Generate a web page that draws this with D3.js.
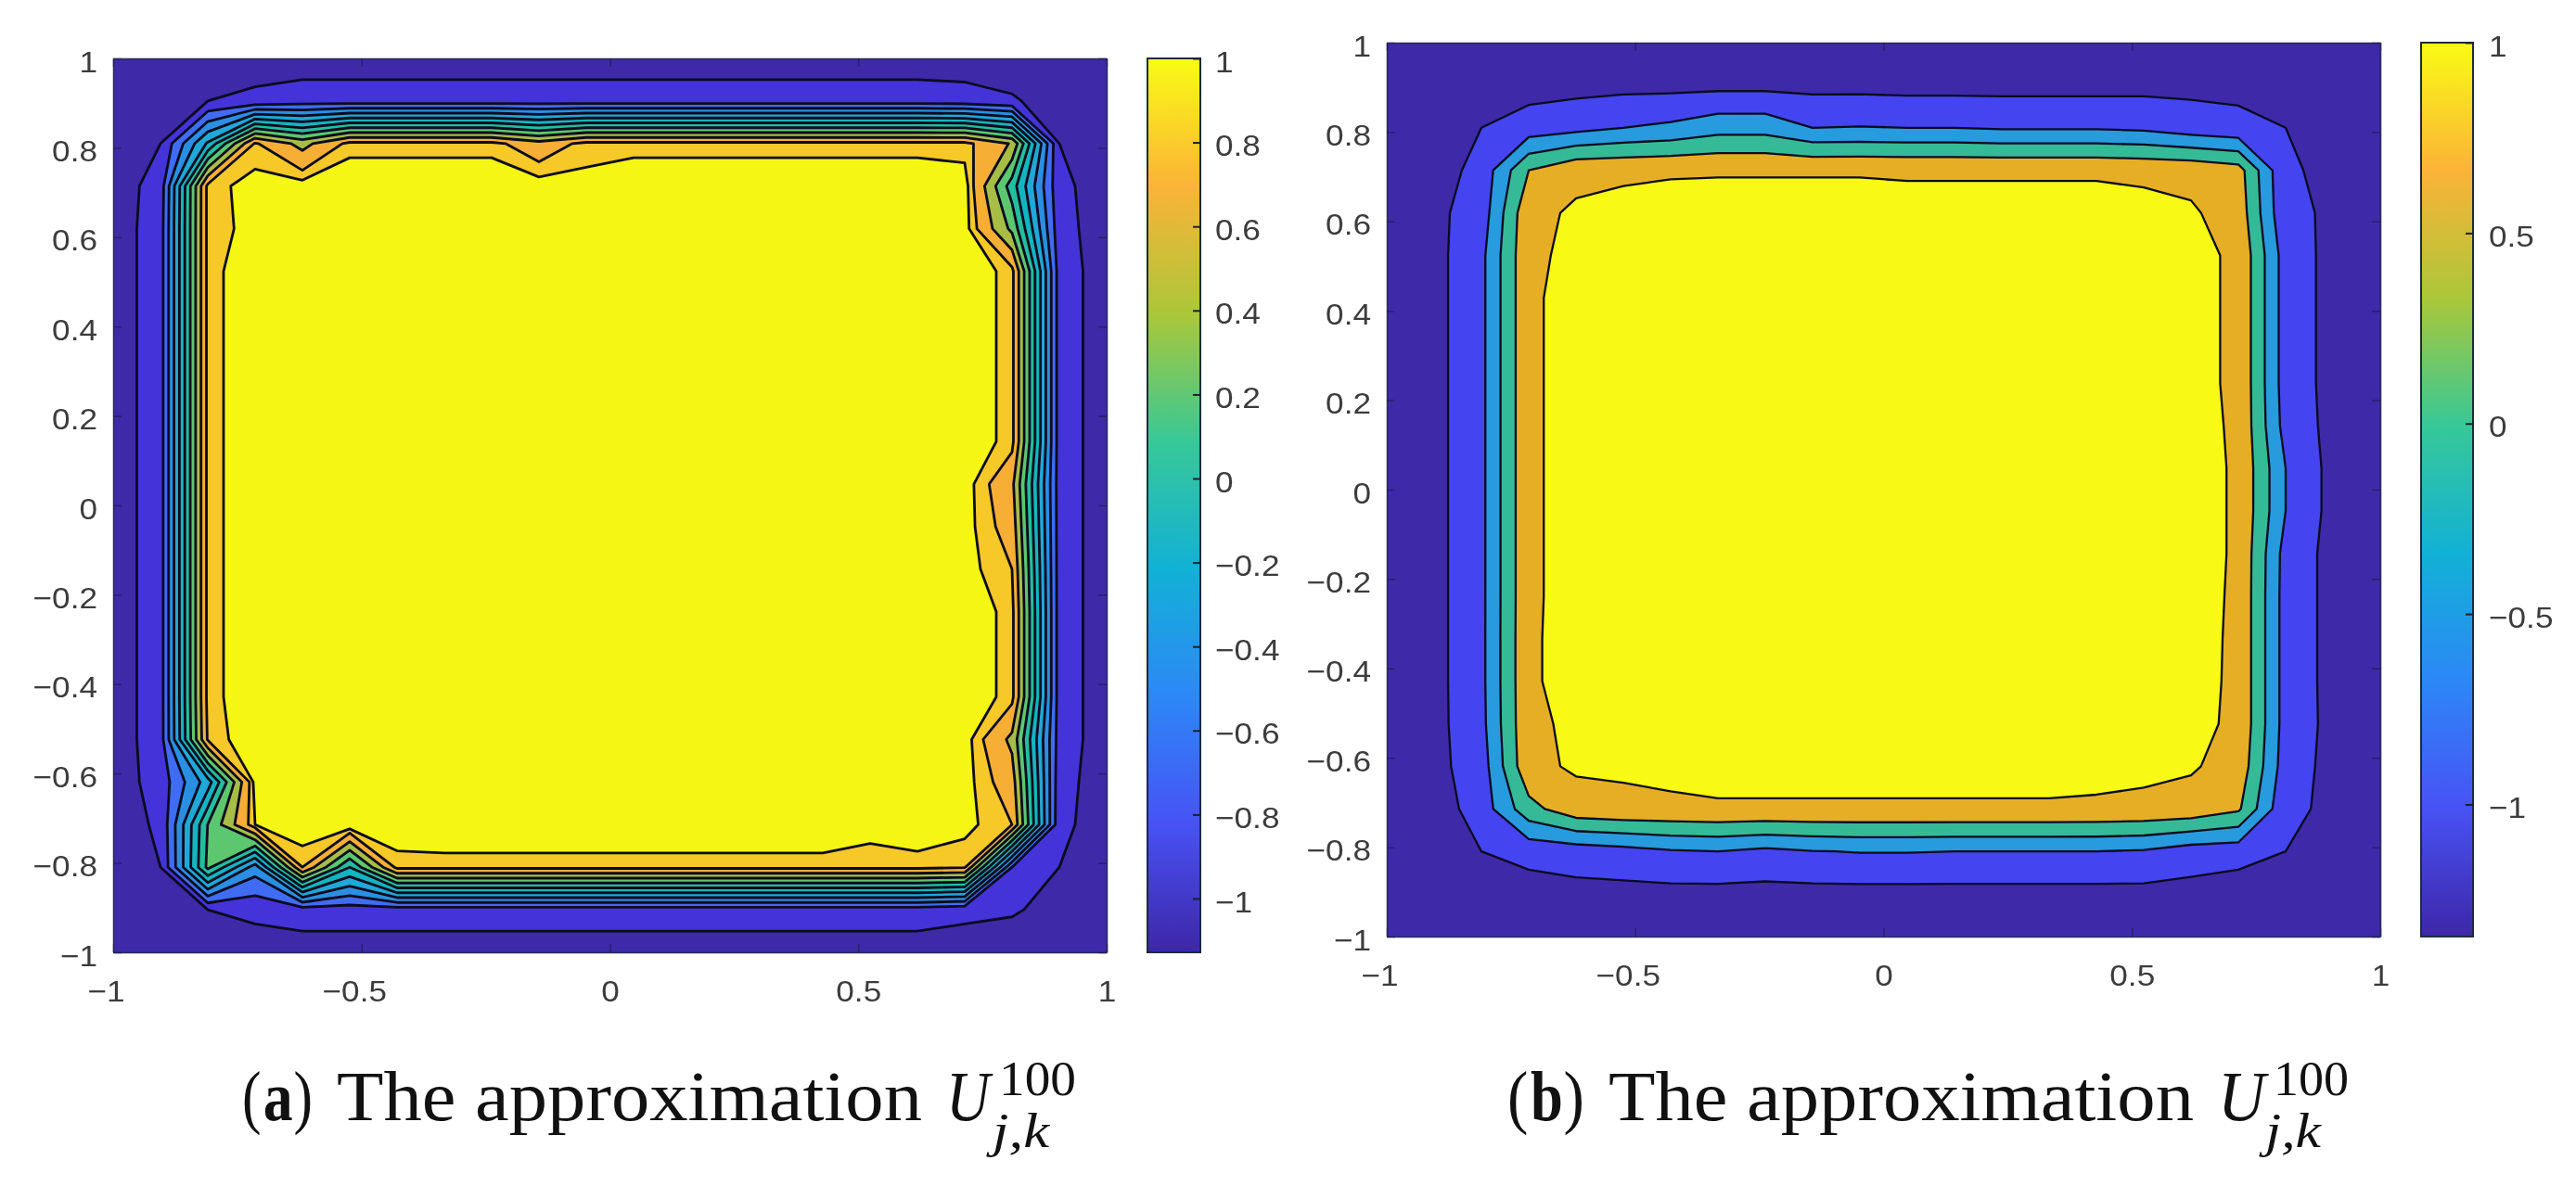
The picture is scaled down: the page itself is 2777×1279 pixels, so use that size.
<!DOCTYPE html>
<html><head><meta charset="utf-8">
<style>html,body{margin:0;padding:0;background:#fff}svg{display:block;filter:blur(0.6px)}</style>
<script src="https://cdn.jsdelivr.net/npm/d3@7"></script></head><body>
<svg id="c" width="2777" height="1279"></svg>
<script>
// 22x22 solution grids (rows top to bottom, y=1..-1; columns x=-1..1)
const gridA = [
[-1.1,-1.1,-1.1,-1.1,-1.1,-1.1,-1.1,-1.1,-1.1,-1.1,-1.1,-1.1,-1.1,-1.1,-1.1,-1.1,-1.1,-1.1,-1.1,-1.1,-1.1,-1.1],
[-1.1,-1.05,-1,-.95,-.9,-.9,-.9,-.9,-.9,-.9,-.9,-.9,-.9,-.9,-.9,-.9,-.9,-.9,-.92,-.98,-1.08,-1.1],
[-1.1,-1,-.17,.82,.53,.85,.85,.85,.85,.68,.85,.85,.85,.85,.85,.85,.85,.85,.85,.58,-1,-1.1],
[-1.1,-.92,.85,.953,.96,1,1,1,1,.96,.94,1,1,1,1,1,1,1,.96,.1,-.95,-1.1],
[-1.1,-.9,.85,.94,1,1,1,1,1,1,1,1,1,1,1,1,1,1,.956,.35,-.93,-1.1],
[-1.1,-.9,.85,1,1,1,1,1,1,1,1,1,1,1,1,1,1,1,1,.85,-.9,-1.1],
[-1.1,-.9,.85,1,1,1,1,1,1,1,1,1,1,1,1,1,1,1,1,.85,-.9,-1.1],
[-1.1,-.9,.85,1,1,1,1,1,1,1,1,1,1,1,1,1,1,1,1,.85,-.9,-1.1],
[-1.1,-.9,.85,1,1,1,1,1,1,1,1,1,1,1,1,1,1,1,1,.85,-.9,-1.1],
[-1.1,-.9,.85,1,1,1,1,1,1,1,1,1,1,1,1,1,1,1,1,.85,-.9,-1.1],
[-1.1,-.9,.85,1,1,1,1,1,1,1,1,1,1,1,1,1,1,1,.96,.65,-.9,-1.1],
[-1.1,-.9,.85,1,1,1,1,1,1,1,1,1,1,1,1,1,1,1,.95,.72,-.9,-1.1],
[-1.1,-.9,.85,1,1,1,1,1,1,1,1,1,1,1,1,1,1,1,.95,.8,-.9,-1.1],
[-1.1,-.9,.85,1,1,1,1,1,1,1,1,1,1,1,1,1,1,1,1,.85,-.9,-1.1],
[-1.1,-.9,.85,1,1,1,1,1,1,1,1,1,1,1,1,1,1,1,1,.85,-.9,-1.1],
[-1.1,-.9,.85,1,1,1,1,1,1,1,1,1,1,1,1,1,1,1,1,.85,-.9,-1.1],
[-1.1,-.9,.82,1,1,1,1,1,1,1,1,1,1,1,1,1,1,1,.96,.55,-.9,-1.1],
[-1.1,-.92,-.3,.95,1,1,1,1,1,1,1,1,1,1,1,1,1,1,.95,.7,-.93,-1.1],
[-1.1,-.967,.205,.9,1,1,.98,1,1,1,1,1,1,1,1,1,.94,.985,.94,.8,-.95,-1.1],
[-1.1,-1,.25,-.5,.8,0,.85,.85,.85,.85,.85,.85,.85,.85,.85,.85,.85,.85,.82,-.8,-1,-1.1],
[-1.1,-1.05,-1,-.95,-.9,-.9,-.9,-.9,-.9,-.9,-.9,-.9,-.9,-.9,-.9,-.9,-.9,-.9,-.95,-.98,-1.06,-1.1],
[-1.1,-1.1,-1.1,-1.1,-1.1,-1.1,-1.1,-1.1,-1.1,-1.1,-1.1,-1.1,-1.1,-1.1,-1.1,-1.1,-1.1,-1.1,-1.1,-1.1,-1.1,-1.1]
];
const gridB = [
[-1.35,-1.35,-1.35,-1.35,-1.35,-1.35,-1.35,-1.35,-1.35,-1.35,-1.35,-1.35,-1.35,-1.35,-1.35,-1.35,-1.35,-1.35,-1.35,-1.35,-1.35,-1.35],
[-1.35,-1.34,-1.3,-1.19,-1.16,-1.14,-1.14,-1.13,-1.13,-1.14,-1.14,-1.16,-1.16,-1.16,-1.16,-1.16,-1.14,-1.12,-1.11,-1.3,-1.33,-1.35],
[-1.35,-1.32,-1,-.78,-.655,-.5,-.4,-.19,-.19,-.5,-.48,-.5,-.5,-.55,-.55,-.55,-.6,-.77,-.88,-1,-1.25,-1.35],
[-1.35,-1.24,-.83,.5,.905,.93,.96,.97,.97,.97,.97,.95,.95,.95,.95,.95,.92,.88,.72,-.97,-1.05,-1.35],
[-1.35,-1.11,-.78,.9,1.05,1.12,1.15,1.15,1.15,1.15,1.15,1.15,1.15,1.15,1.15,1.15,1.12,1.05,.815,-.935,-1.04,-1.35],
[-1.35,-1.155,-.63,.93,1.08,1.15,1.15,1.15,1.15,1.15,1.15,1.15,1.15,1.15,1.15,1.15,1.15,1.08,.95,-.75,-1.14,-1.35],
[-1.35,-1.155,-.63,.93,1.15,1.15,1.15,1.15,1.15,1.15,1.15,1.15,1.15,1.15,1.15,1.15,1.15,1.08,.95,-.75,-1.14,-1.35],
[-1.35,-1.155,-.63,.93,1.15,1.15,1.15,1.15,1.15,1.15,1.15,1.15,1.15,1.15,1.15,1.15,1.15,1.08,.95,-.75,-1.14,-1.35],
[-1.35,-1.155,-.63,.93,1.15,1.15,1.15,1.15,1.15,1.15,1.15,1.15,1.15,1.15,1.15,1.15,1.15,1.08,.95,-.75,-1.14,-1.35],
[-1.35,-1.155,-.63,.93,1.15,1.15,1.15,1.15,1.15,1.15,1.15,1.15,1.15,1.15,1.15,1.15,1.15,1.1,.955,-.7,-1.14,-1.35],
[-1.35,-1.155,-.63,.93,1.15,1.15,1.15,1.15,1.15,1.15,1.15,1.15,1.15,1.15,1.15,1.15,1.15,1.12,.96,-.5,-1.16,-1.35],
[-1.35,-1.155,-.63,.93,1.15,1.15,1.15,1.15,1.15,1.15,1.15,1.15,1.15,1.15,1.15,1.15,1.15,1.12,.96,-.5,-1.16,-1.35],
[-1.35,-1.155,-.63,.93,1.15,1.15,1.15,1.15,1.15,1.15,1.15,1.15,1.15,1.15,1.15,1.15,1.15,1.12,.96,-.7,-1.15,-1.35],
[-1.35,-1.155,-.63,.93,1.15,1.15,1.15,1.15,1.15,1.15,1.15,1.15,1.15,1.15,1.15,1.15,1.15,1.12,.95,-.72,-1.14,-1.35],
[-1.35,-1.155,-.63,.94,1.15,1.15,1.15,1.15,1.15,1.15,1.15,1.15,1.15,1.15,1.15,1.15,1.15,1.1,.95,-.72,-1.14,-1.35],
[-1.35,-1.155,-.63,.94,1.15,1.15,1.15,1.15,1.15,1.15,1.15,1.15,1.15,1.15,1.15,1.15,1.15,1.09,.95,-.72,-1.14,-1.35],
[-1.35,-1.155,-.65,.93,1.065,1.15,1.15,1.15,1.15,1.15,1.15,1.15,1.15,1.15,1.15,1.15,1.15,1.07,.95,-.72,-1.13,-1.35],
[-1.35,-1.14,-.75,.9,1.05,1.05,1.1,1.15,1.15,1.15,1.15,1.15,1.15,1.15,1.15,1.12,1.08,1.04,.85,-.77,-1.14,-1.35],
[-1.35,-1.25,-.775,.325,.84,.92,.93,.95,.95,.95,.95,.95,.95,.95,.95,.94,.92,.85,.58,-.92,-1.07,-1.35],
[-1.35,-1.32,-1,-.835,-.77,-.68,-.55,-.5,-.62,-.52,-.48,-.48,-.5,-.5,-.5,-.5,-.55,-.75,-.79,-1,-1.25,-1.35],
[-1.35,-1.34,-1.3,-1.22,-1.147,-1.15,-1.15,-1.158,-1.16,-1.16,-1.158,-1.158,-1.158,-1.158,-1.158,-1.158,-1.15,-1.17,-1.28,-1.3,-1.33,-1.35],
[-1.35,-1.35,-1.35,-1.35,-1.35,-1.35,-1.35,-1.35,-1.35,-1.35,-1.35,-1.35,-1.35,-1.35,-1.35,-1.35,-1.35,-1.35,-1.35,-1.35,-1.35,-1.35]
];
const levelsA = [-1,-.8,-.6,-.4,-.2,0,.2,.4,.6,.8,.9];
const levelsB = [-1,-.5,0,.5,1];
const bgA = "#3e29a8", bgB = "#3e29a8";
const colorsA = ["#4433d8","#3f6cf2","#2a8fe2","#1fa8d8","#12b6c0","#22bf9e","#5cc76e","#a8bd45","#f6ae35","#f6c828","#f6f614"];
const colorsB = ["#4444f0","#289ade","#35ba98","#e6ae24","#f8f914"];
const axisTicksX = [-1,-.5,0,.5,1];
const axisTicksYA = [-1,-.8,-.6,-.4,-.2,0,.2,.4,.6,.8,1];
const barTicksA = [-1,-.8,-.6,-.4,-.2,0,.2,.4,.6,.8,1];
const barTicksB = [-1,-.5,0,.5,1];
const climA = [-1.128,1], climB = [-1.347,1];
const parulaStops = ["#3e26a8","#4852f4","#2d87f7","#12b1d6","#37c897","#abc739","#fbb338","#f9fb15"];
const captionWords = {main:"The approximation", sup:"100", sub:"j,k", ital:"U"};

const svg = d3.select("#c");
const defs = svg.append("defs");
const TXT = "#3c3c3c", SX = 1.1, FS = 32;
const fmt = v => String(v).replace("-", "\u2212");

function stretch(sel, x, y){ sel.attr("x",0).attr("y",0).attr("dy",null).attr("transform",`translate(${x},${y}) scale(${SX},1)`); }

function panel(o){
  const g = svg.append("g");
  const sx = d3.scaleLinear().domain([-1,1]).range([o.l,o.r]);
  const sy = d3.scaleLinear().domain([-1,1]).range([o.b,o.t]);
  const n = o.grid.length;
  const gx = d3.scaleLinear().domain([.5,n-.5]).range([-1,1]);
  const gy = d3.scaleLinear().domain([.5,n-.5]).range([1,-1]);
  const path = d3.geoPath(d3.geoTransform({point(x,y){ this.stream.point(sx(gx(x)), sy(gy(y))); }}));
  g.append("rect").attr("x",o.l).attr("y",o.t).attr("width",o.r-o.l).attr("height",o.b-o.t).attr("fill",o.bg);
  const conts = d3.contours().size([n,n]).smooth(true).thresholds(o.levels)(o.grid.flat());
  g.selectAll("path.band").data(conts).join("path").attr("class","band")
    .attr("d",path).attr("fill",(d,i)=>o.colors[i]).attr("stroke","#0b0b1e").attr("stroke-width",o.lw).attr("stroke-linejoin","round");

  // axes
  const ax = d3.axisBottom(sx).tickValues(axisTicksX).tickFormat(fmt).tickSizeInner(-9).tickSizeOuter(0);
  const ay = d3.axisLeft(sy).tickValues(o.yticks).tickFormat(fmt).tickSizeInner(-9).tickSizeOuter(0);
  const gax = g.append("g").attr("transform",`translate(0,${o.b})`).call(ax);
  const gay = g.append("g").attr("transform",`translate(${o.l},0)`).call(ay);
  const gtx = g.append("g").attr("transform",`translate(0,${o.t})`).call(d3.axisTop(sx).tickValues(axisTicksX).tickFormat("").tickSizeInner(-9).tickSizeOuter(0));
  const gry = g.append("g").attr("transform",`translate(${o.r},0)`).call(d3.axisRight(sy).tickValues(o.yticks).tickFormat("").tickSizeInner(-9).tickSizeOuter(0));
  [gax,gay,gtx,gry].forEach(a=>{ a.selectAll("line").attr("stroke","#1c1c50").attr("stroke-width",1.4).attr("stroke-opacity",.7);
    a.select(".domain").attr("stroke","#2b2b58").attr("stroke-width",1.5); a.attr("font-family",null).attr("font-size",null); });
  gax.selectAll("text").attr("font-family","Liberation Sans").attr("font-size",FS).attr("fill",TXT).attr("text-anchor","middle")
    .each(function(d){ stretch(d3.select(this), d<0?-8:0, o.xLabelBase-o.b); });
  gay.selectAll("text").attr("font-family","Liberation Sans").attr("font-size",FS).attr("fill",TXT).attr("text-anchor","end")
    .each(function(){ stretch(d3.select(this), o.yLabelX-o.l, 14); });

  // colorbar
  const sc = d3.scaleLinear().domain(o.clim).range([o.b,o.t+0]);
  const gid = "bar"+o.id;
  const lg = defs.append("linearGradient").attr("id",gid).attr("x1",0).attr("x2",0).attr("y1",1).attr("y2",0);
  parulaStops.forEach((c,i)=>lg.append("stop").attr("offset",i/(parulaStops.length-1)).attr("stop-color",c));
  g.append("rect").attr("x",o.cl).attr("y",o.t).attr("width",o.cr-o.cl).attr("height",o.b-o.t)
    .attr("fill",`url(#${gid})`).attr("stroke","#1d2b3a").attr("stroke-width",2);
  const ac = d3.axisRight(sc).tickValues(o.barTicks).tickFormat(fmt).tickSizeInner(-8).tickSizeOuter(0);
  const gac = g.append("g").attr("transform",`translate(${o.cr},0)`).call(ac);
  gac.attr("font-family",null).attr("font-size",null);
  gac.select(".domain").remove();
  gac.selectAll("line").attr("stroke","#1a2030").attr("stroke-width",2);
  gac.selectAll("text").attr("font-family","Liberation Sans").attr("font-size",FS).attr("fill",TXT).attr("text-anchor","start")
    .each(function(){ stretch(d3.select(this), o.barLabelX-o.cr, 14); });

  // caption
  const base = o.capBase;
  const fit = (str,x0,x1,y,size,style,weight)=>{
    const t = g.append("text").attr("font-family","Liberation Serif").attr("font-size",size).attr("fill","#111")
      .attr("font-style",style||"normal").attr("font-weight",weight||"normal").text(str);
    const w = t.node().getComputedTextLength();
    t.attr("transform",`translate(${x0},${y}) scale(${(x1-x0)/w},1)`);
    return t;
  };
  const c = o.cap;
  fit("(",c.p0,c.p0+(c.p3-c.p0)*.27,base,76);
  fit(o.tag,c.p0+(c.p3-c.p0)*.3,c.p0+(c.p3-c.p0)*.72,base,76,null,"bold");
  fit(")",c.p3-(c.p3-c.p0)*.27,c.p3,base,76);
  fit(captionWords.main,c.m0,c.m1,base,76);
  fit(captionWords.ital,c.u0,c.u1,base,76,"italic");
  fit(captionWords.sup,c.s0,c.s1,o.supBase,52);
  fit(captionWords.sub,c.j0,c.j1,o.subBase,52,"italic");
}

panel({id:"a",grid:gridA,levels:levelsA,colors:colorsA,bg:bgA,lw:2.8,l:122,r:1193,t:63,b:1027,cl:1237,cr:1294,
  yticks:axisTicksYA,barTicks:barTicksA,clim:climA,xLabelBase:1080,yLabelX:105,barLabelX:1310,tag:"a",
  capBase:1208,supBase:1181,subBase:1237,
  cap:{p0:261,p3:337,m0:363,m1:994,u0:1020,u1:1067,s0:1077,s1:1160,j0:1070,j1:1131}});
panel({id:"b",grid:gridB,levels:levelsB,colors:colorsB,bg:bgB,lw:2.3,l:1495,r:2566,t:46,b:1010,cl:2610,cr:2666,
  yticks:axisTicksYA,barTicks:barTicksB,clim:climB,xLabelBase:1063,yLabelX:1478,barLabelX:2683,tag:"b",
  capBase:1208,supBase:1181,subBase:1237,
  cap:{p0:1625,p3:1708,m0:1734,m1:2365,u0:2391,u1:2442,s0:2451,s1:2532,j0:2442,j1:2502}});
</script></body></html>
